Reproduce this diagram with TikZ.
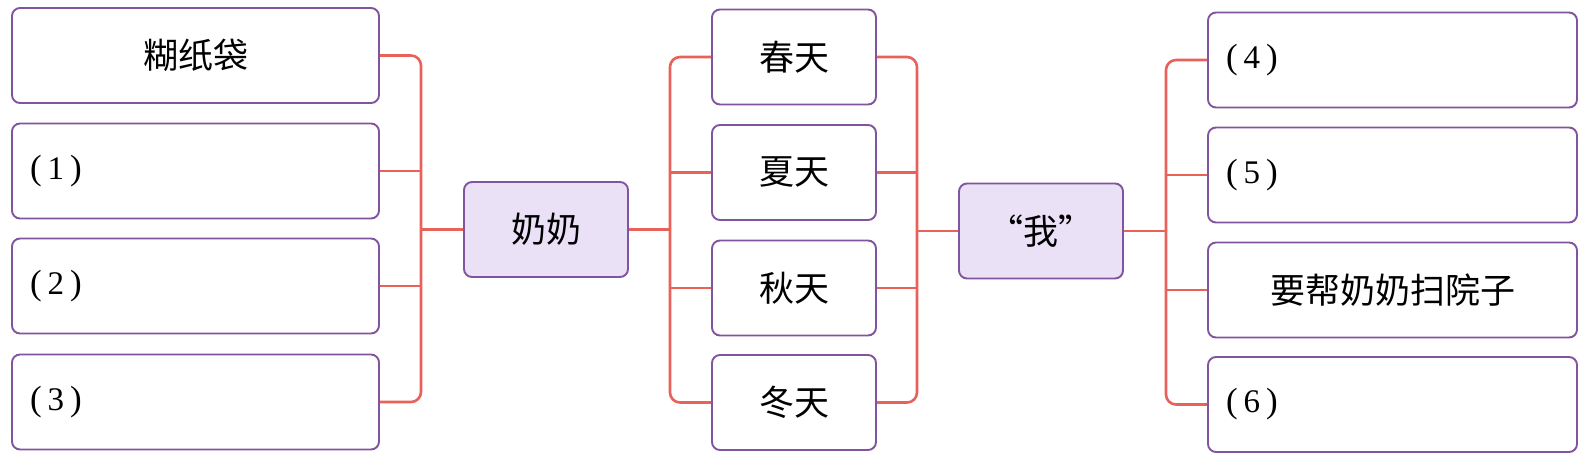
\documentclass[tikz,border=0pt]{standalone}
\usepackage{fontspec}
\newfontfamily\cjk{Noto Sans CJK SC}
\newfontfamily\serifdig{Liberation Serif}
\definecolor{boxc}{RGB}{128,84,158}
\definecolor{linec}{RGB}{232,98,90}
\definecolor{hubfill}{RGB}{235,225,246}
\newcommand{\holeNum}[1]{{\serifdig\fontsize{35}{40}\selectfont(\hspace{6pt}{\fontsize{33}{38}\selectfont #1}\hspace{6pt})}}
\tikzset{
  box/.style={draw=boxc, line width=1.9pt, rounded corners=8pt, minimum height=95pt,
              inner sep=0pt, font=\cjk\fontsize{35}{40}\selectfont},
  widebox/.style={box, minimum width=367pt},
  holebox/.style={widebox, text width=331pt, align=left},
  seasonbox/.style={box, minimum width=164pt},
  hubbox/.style={box, minimum width=164pt, fill=hubfill},
  conn/.style={draw=linec, line width=2.6pt, rounded corners=10pt},
}
\begin{document}
\begin{tikzpicture}[x=1pt,y=-1pt]
\useasboundingbox[fill=white] (0,0) rectangle (1586,458);

% left column
\node[widebox] (L1) at (195.5,55.5) {糊纸袋};
\node[holebox] (L2) at (195.5,171) {\holeNum{1}};
\node[holebox] (L3) at (195.5,286) {\holeNum{2}};
\node[holebox] (L4) at (195.5,402) {\holeNum{3}};

% hubs
\node[hubbox] (nai) at (546,229.5) {奶奶};
\node[hubbox] (wo) at (1041,231) {“我”};

% seasons
\node[seasonbox] (S1) at (794,57) {春天};
\node[seasonbox] (S2) at (794,172.5) {夏天};
\node[seasonbox] (S3) at (794,288) {秋天};
\node[seasonbox] (S4) at (794,402.5) {冬天};

% right column
\node[holebox, minimum width=369pt, text width=333pt] (R1) at (1392.5,60) {\holeNum{4}};
\node[holebox, minimum width=369pt, text width=333pt] (R2) at (1392.5,175) {\holeNum{5}};
\node[widebox, minimum width=369pt] (R3) at (1392.5,290) {要帮奶奶扫院子};
\node[holebox, minimum width=369pt, text width=333pt] (R4) at (1392.5,404.5) {\holeNum{6}};

% bus coordinates
\coordinate (busL) at (421,229.5);
\coordinate (busA) at (670,229.5);
\coordinate (busB) at (917,231);
\coordinate (busR) at (1166,231);

% left group
\draw[conn] (L1.east) -| (busL) |- (L4.east);
\draw[conn] (L2.east) -- (L2.east -| busL);
\draw[conn] (L3.east) -- (L3.east -| busL);
\draw[conn] (busL) -- (nai.west);

% seasons left
\draw[conn] (S1.west) -| (busA) |- (S4.west);
\draw[conn] (S2.west) -- (S2.west -| busA);
\draw[conn] (S3.west) -- (S3.west -| busA);
\draw[conn] (nai.east) -- (busA);

% seasons right
\draw[conn] (S1.east) -| (busB) |- (S4.east);
\draw[conn] (S2.east) -- (S2.east -| busB);
\draw[conn] (S3.east) -- (S3.east -| busB);
\draw[conn] (busB) -- (wo.west);

% right group
\draw[conn] (R1.west) -| (busR) |- (R4.west);
\draw[conn] (R2.west) -- (R2.west -| busR);
\draw[conn] (R3.west) -- (R3.west -| busR);
\draw[conn] (wo.east) -- (busR);
\end{tikzpicture}
\end{document}
